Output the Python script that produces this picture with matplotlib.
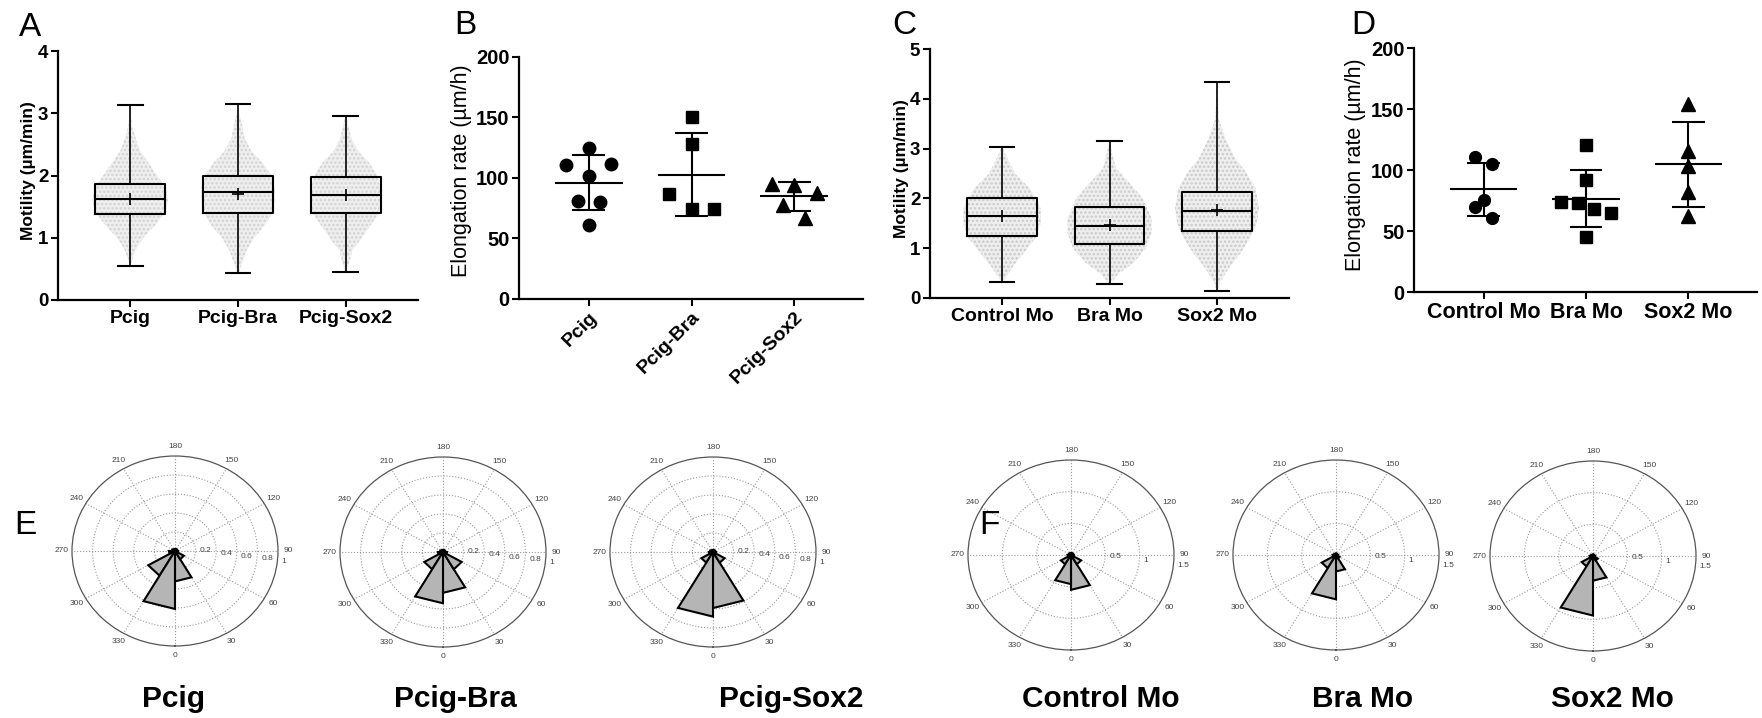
import numpy as np
import matplotlib
matplotlib.use('Agg')
import matplotlib.pyplot as plt

plt.rcParams['font.family'] = ['Liberation Sans', 'DejaVu Sans']
plt.rcParams['hatch.linewidth'] = 1.2

# ---------------- data ----------------
# Panel A: motility box plots (whisker min..max)
a_groups = ['Pcig', 'Pcig-Bra', 'Pcig-Sox2']
a_whislo = [0.55, 0.43, 0.45]
a_q1 = [1.38, 1.40, 1.40]
a_med = [1.62, 1.73, 1.68]
a_q3 = [1.87, 2.00, 1.98]
a_whishi = [3.13, 3.15, 2.96]
a_mean = [1.63, 1.70, 1.68]
# outline of the cloud of raw points (value levels, half-width in category units)
a_cloud_y = [[0.6, 0.8, 1.0, 1.2, 1.4, 1.6, 1.8, 2.0, 2.2, 2.4, 2.6, 2.8, 3.1],
             [0.45, 0.8, 1.0, 1.2, 1.4, 1.6, 1.8, 2.0, 2.2, 2.4, 2.6, 2.8, 3.0],
             [0.45, 0.8, 1.0, 1.2, 1.4, 1.6, 1.8, 2.0, 2.2, 2.4, 2.6, 2.8, 2.95]]
a_cloud_w = [[0.01, 0.05, 0.12, 0.23, 0.32, 0.35, 0.33, 0.25, 0.17, 0.09, 0.05, 0.015, 0.006],
             [0.01, 0.08, 0.15, 0.25, 0.32, 0.34, 0.34, 0.31, 0.23, 0.12, 0.06, 0.04, 0.01],
             [0.01, 0.06, 0.15, 0.23, 0.31, 0.32, 0.32, 0.29, 0.22, 0.11, 0.05, 0.025, 0.006]]

# Panel B: elongation rate, individual embryos + mean +/- SD
b_groups = ['Pcig', 'Pcig-Bra', 'Pcig-Sox2']
b_vals = [[124.8, 111.0, 111.6, 101.4, 81.3, 79.9, 60.9],
          [150.4, 128.1, 86.5, 74.4, 74.7],
          [95.3, 94.0, 87.3, 77.4, 67.2]]
b_slots = [[0, -2, 2, 0, -1, 1, 0],
           [0, 0, -2, 0, 2],
           [-2, 0, 2, -1, 1]]
b_mean = [96.1, 102.8, 84.9]
b_sd = [22.6, 34.4, 11.9]

# Panel C: motility box plots, morpholinos
c_groups = ['Control Mo', 'Bra Mo', 'Sox2 Mo']
c_whislo = [0.32, 0.29, 0.15]
c_q1 = [1.25, 1.09, 1.35]
c_med = [1.65, 1.45, 1.74]
c_q3 = [2.00, 1.83, 2.12]
c_whishi = [3.04, 3.16, 4.34]
c_mean = [1.65, 1.47, 1.76]
c_cloud_y = [[0.35, 0.6, 0.9, 1.2, 1.5, 1.8, 2.2, 2.5, 2.8, 3.0],
             [0.3, 0.5, 0.7, 1.0, 1.3, 1.6, 2.0, 2.3, 2.6, 2.9, 3.1],
             [0.15, 0.3, 0.6, 0.9, 1.2, 1.5, 1.8, 2.2, 2.5, 2.8, 3.2, 3.6, 4.3]]
c_cloud_w = [[0.015, 0.09, 0.2, 0.31, 0.36, 0.36, 0.26, 0.12, 0.05, 0.01],
             [0.01, 0.09, 0.22, 0.34, 0.39, 0.39, 0.31, 0.19, 0.06, 0.025, 0.006],
             [0.006, 0.025, 0.11, 0.22, 0.31, 0.37, 0.39, 0.36, 0.28, 0.17, 0.08, 0.015, 0.003]]

# Panel D: elongation rate, morpholinos
d_groups = ['Control Mo', 'Bra Mo', 'Sox2 Mo']
d_vals = [[110.4, 104.6, 75.7, 69.7, 60.9],
          [120.2, 91.8, 74.0, 73.2, 67.8, 65.0, 45.1],
          [154.4, 115.3, 103.0, 81.7, 62.6]]
d_slots = [[-1, 1, 0, -1, 1],
           [0, 0, -3, -1, 1, 3, 0],
           [0, 0, 0, 0, 0]]
d_mean = [84.2, 76.5, 104.6]
d_sd = [21.8, 23.6, 34.6]

# Panels E/F: rose histograms, 12 bins of 30 deg starting at 0
rose_bins_deg = [0, 30, 60, 90, 120, 150, 180, 210, 240, 270, 300, 330, 360]
e_titles = ['Pcig', 'Pcig-Bra', 'Pcig-Sox2']
e_counts = [[0.32, 0.10, 0.03, 0.02, 0.02, 0.02, 0.02, 0.02, 0.03, 0.06, 0.30, 0.61],
            [0.43, 0.21, 0.04, 0.02, 0.02, 0.02, 0.02, 0.02, 0.03, 0.05, 0.21, 0.54],
            [0.59, 0.13, 0.03, 0.02, 0.02, 0.02, 0.02, 0.02, 0.03, 0.04, 0.13, 0.68]]
e_rings = [0.2, 0.4, 0.6, 0.8]
e_rmax = 1.0
f_titles = ['Control Mo', 'Bra Mo', 'Sox2 Mo']
f_counts = [[0.55, 0.17, 0.04, 0.03, 0.03, 0.03, 0.03, 0.03, 0.03, 0.05, 0.17, 0.46],
            [0.26, 0.06, 0.03, 0.02, 0.02, 0.02, 0.02, 0.02, 0.03, 0.05, 0.24, 0.70],
            [0.39, 0.08, 0.03, 0.02, 0.02, 0.02, 0.02, 0.02, 0.03, 0.05, 0.19, 0.94]]
f_rings = [0.5, 1.0]
f_rmax = 1.5

# ---------------- figure ----------------
W, H = 1762, 718
fig = plt.figure(figsize=(W / 100, H / 100), dpi=100)


def px_axes(x0, y0, x1, y1, **kw):
    return fig.add_axes([x0 / W, 1 - y1 / H, (x1 - x0) / W, (y1 - y0) / H], **kw)


def style_axes(ax, ytick_fs, xtick_fs):
    for s in ('top', 'right'):
        ax.spines[s].set_visible(False)
    for s in ('left', 'bottom'):
        ax.spines[s].set_linewidth(1.6)
    ax.tick_params(direction='out', length=5, width=1.5, pad=2)
    for lab in ax.get_yticklabels():
        lab.set_fontweight('bold')
        lab.set_fontsize(ytick_fs)
    for lab in ax.get_xticklabels():
        lab.set_fontweight('bold')
        lab.set_fontsize(xtick_fs)


def box_panel(ax, groups, lo, q1, med, q3, hi, mean, cy, cw, cloud_col, ymax):
    pos = np.arange(len(groups))
    for i in range(len(groups)):
        y = np.asarray(cy[i])
        w = np.asarray(cw[i])
        ax.fill_betweenx(y, pos[i] - w, pos[i] + w, facecolor='#efefef',
                         edgecolor=cloud_col, hatch='....', lw=0, zorder=1)
    stats = [dict(med=med[i], q1=q1[i], q3=q3[i], whislo=lo[i], whishi=hi[i],
                  mean=mean[i], fliers=[]) for i in range(len(groups))]
    ax.bxp(stats, positions=pos, widths=0.65, capwidths=0.23, showmeans=True,
           boxprops=dict(color='k', lw=1.5), medianprops=dict(color='k', lw=1.5),
           whiskerprops=dict(color='k', lw=1.2), capprops=dict(color='k', lw=1.5),
           meanprops=dict(marker='+', markeredgecolor='k', markersize=8, markeredgewidth=1.2),
           manage_ticks=False, zorder=3)
    ax.set_xlim(-0.67, len(groups) - 0.33)
    ax.set_ylim(0, ymax)
    ax.set_yticks(range(0, ymax + 1))
    ax.set_xticks(pos)
    ax.set_xticklabels(groups)


def dot_panel(ax, groups, vals, slots, step, mean, sd, markers, msizes):
    pos = np.arange(len(groups))
    for i in range(len(groups)):
        x = pos[i] + np.asarray(slots[i]) * step
        ax.plot(x, vals[i], ls='none', marker=markers[i], ms=msizes[i], color='k',
                mec='k', zorder=3)
        ax.hlines(mean[i], pos[i] - 0.33, pos[i] + 0.33, color='k', lw=1.5, zorder=2)
        ax.vlines(pos[i], mean[i] - sd[i], mean[i] + sd[i], color='k', lw=1.5, zorder=2)
        ax.hlines([mean[i] - sd[i], mean[i] + sd[i]], pos[i] - 0.16, pos[i] + 0.16,
                  color='k', lw=1.5, zorder=2)
    ax.set_xlim(-0.68, len(groups) - 0.33)
    ax.set_ylim(0, 200)
    ax.set_yticks([0, 50, 100, 150, 200])
    ax.set_xticks(pos)
    ax.set_xticklabels(groups)


# Panel A
axA = px_axes(58, 51, 418, 300)
box_panel(axA, a_groups, a_whislo, a_q1, a_med, a_q3, a_whishi, a_mean,
          a_cloud_y, a_cloud_w, '#d2d2d2', 4)
style_axes(axA, 13.5, 14)
axA.set_ylabel('Motility (µm/min)', fontsize=12.5, fontweight='bold', va='center')
axA.yaxis.set_label_coords(-0.083, 0.52)

# Panel B
axB = px_axes(519, 57, 863, 299)
dot_panel(axB, b_groups, b_vals, b_slots, 0.11, b_mean, b_sd, ['o', 's', '^'], [9, 8.5, 9.5])
style_axes(axB, 14.5, 14)
for lab in axB.get_xticklabels():
    lab.set_rotation(45)
    lab.set_ha('right')
    lab.set_va('top')
    lab.set_rotation_mode('anchor')
axB.set_ylabel('Elongation rate (µm/h)', fontsize=15.5, va='center')
axB.yaxis.set_label_coords(-0.167, 0.53)

# Panel C
axC = px_axes(930, 49, 1289, 298)
box_panel(axC, c_groups, c_whislo, c_q1, c_med, c_q3, c_whishi, c_mean,
          c_cloud_y, c_cloud_w, '#cacaca', 5)
style_axes(axC, 13.5, 14)
axC.set_ylabel('Motility (µm/min)', fontsize=12.5, fontweight='bold', va='center')
axC.yaxis.set_label_coords(-0.079, 0.52)

# Panel D
axD = px_axes(1414, 48, 1757, 292)
dot_panel(axD, d_groups, d_vals, d_slots, 0.08, d_mean, d_sd, ['o', 's', '^'], [8.5, 8.5, 9.5])
style_axes(axD, 14.5, 15.5)
axD.set_ylabel('Elongation rate (µm/h)', fontsize=15.5, va='center')
axD.yaxis.set_label_coords(-0.172, 0.52)

# panel letters
for letter, (x, y) in zip('ABCD', [(30, 27), (465, 26), (904, 26), (1363, 25)]):
    fig.text(x / W, 1 - y / H, letter, fontsize=24, ha='center', va='center')


# rose plots
def rose(cx, cy, counts, rings, rmax, title, tx):
    ax = px_axes(cx - 103, cy - 95, cx + 103, cy + 95, projection='polar')
    ax.set_aspect('auto')
    ax.set_theta_zero_location('S')
    ax.set_theta_direction(1)
    edges = np.deg2rad(rose_bins_deg)
    for i, c in enumerate(counts):
        ax.fill([edges[i], edges[i], edges[i + 1]], [0, c, c], facecolor='#b5b5b5',
                edgecolor='k', lw=1.5, zorder=3, joinstyle='miter')
    ax.set_ylim(0, rmax)
    ax.set_xticks(edges[:-1])
    ax.set_xticklabels([])
    ax.set_yticks(rings)
    ax.set_yticklabels([])
    ax.grid(True, color='#9a9a9a', ls=':', lw=0.8)
    ax.tick_params(length=0)
    ax.spines['polar'].set_color('#555555')
    ax.spines['polar'].set_linewidth(0.9)
    for ang in rose_bins_deg[:-1]:
        ax.text(np.deg2rad(ang), rmax * 1.1, str(ang), ha='center', va='center',
                fontsize=6, color='#444444')
    for r in list(rings) + [rmax]:
        ax.text(np.deg2rad(82), r + 0.045 * rmax, f'{r:g}', ha='left', va='bottom',
                fontsize=6, color='#444444')
    fig.text(tx / W, 1 - 707 / H, title, ha='center', va='baseline', fontsize=21.5,
             fontweight='bold')


for (cx, cy, tx), cnt, ttl in zip([(175, 551, 174), (443, 552, 455), (713, 552, 791)],
                                  e_counts, e_titles):
    rose(cx, cy, cnt, e_rings, e_rmax, ttl, tx)
for (cx, cy, tx), cnt, ttl in zip([(1071, 555, 1101), (1336, 555, 1363), (1593, 556, 1612)],
                                  f_counts, f_titles):
    rose(cx, cy, cnt, f_rings, f_rmax, ttl, tx)

fig.text(25 / W, 1 - 526 / H, 'E', fontsize=24, ha='center', va='center')
fig.text(989 / W, 1 - 526 / H, 'F', fontsize=24, ha='center', va='center')

fig.savefig('out.png', dpi=100)
